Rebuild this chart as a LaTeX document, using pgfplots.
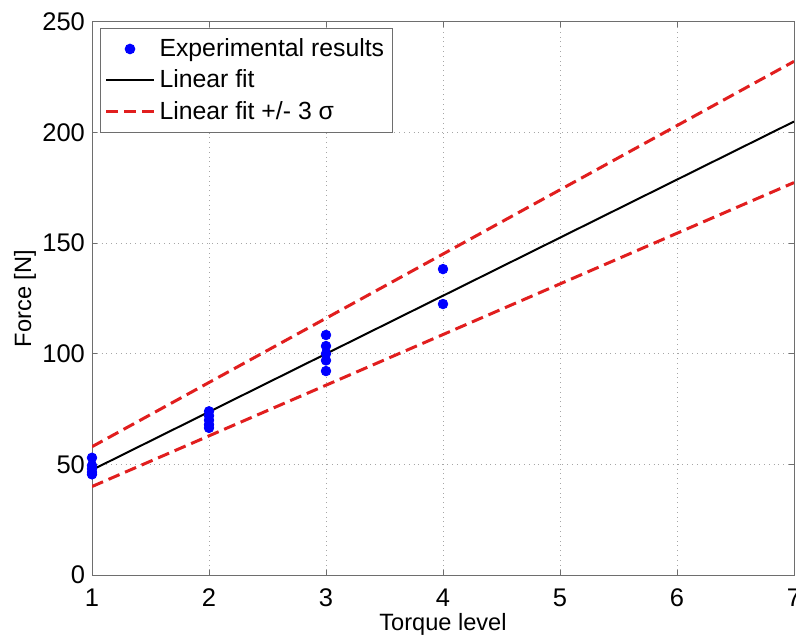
\documentclass[border=0pt]{standalone}
\usepackage{pgfplots}
\pgfplotsset{compat=1.18}
\usepackage{fontspec}
\setmainfont{Liberation Sans}

\definecolor{mred}{RGB}{225,30,30}
\definecolor{mblue}{RGB}{0,0,255}
\definecolor{axgray}{RGB}{110,110,110}

\begin{document}
\begin{tikzpicture}
\begin{axis}[
  width=351pt, height=276.5pt, scale only axis,
  xmin=1, xmax=7, ymin=0, ymax=250,
  xtick={1,...,7}, ytick={0,50,...,250},
  tick align=inside, major tick length=2.5pt,
  grid=major,
  grid style={dotted, gray!70, line width=0.5pt},
  axis line style={axgray, line width=0.5pt},
  tick style={axgray, line width=0.5pt},
  ticklabel style={font=\fontsize{12.75}{15}\selectfont},
  xticklabel style={yshift=-3.5pt},
  /pgf/number format/assume math mode=true,
  xlabel={Torque level}, ylabel={Force [N]},
  label style={font=\fontsize{11.8}{14}\selectfont},
  xlabel style={at={(axis description cs:0.5,-0.0995)}, anchor=base},
  ylabel style={at={(axis description cs:-0.0953,0.5)}, anchor=center},
  legend style={at={(0,1)}, anchor=north west, xshift=4pt, yshift=-3pt,
    draw=axgray, line width=0.5pt, font=\fontsize{12.4}{14}\selectfont,
    inner xsep=2pt, inner ysep=3pt, row sep=1.2pt},
  legend cell align=left,
  legend image code/.code={\draw[mark repeat=2,mark phase=2,#1] plot coordinates {(0pt,0pt) (12pt,0pt) (24pt,0pt)};},
]
\addplot[only marks, mark=*, mark size=2.4pt, mblue, mark options={fill=mblue, draw=mblue}]
  coordinates {
  (1,53) (1,49.5) (1,48) (1,46.5) (1,45.5)
  (2,74) (2,72) (2,70) (2,68) (2,66.5)
  (3,108.5) (3,103.5) (3,100) (3,97) (3,92.2)
  (4,138.3) (4,122.5)
  };
\addlegendentry{Experimental results}
\addplot[black, line width=1pt] coordinates {(1,47.5) (7,205)};
\addlegendentry{Linear fit}
\addplot[mred, line width=1.5pt, dash pattern=on 6pt off 3pt] coordinates {(1,58) (7,232.2)};
\addlegendentry{Linear fit +/- 3 σ}
\addplot[mred, line width=1.5pt, dash pattern=on 6pt off 3pt, forget plot] coordinates {(1,40) (7,177.4)};
\coordinate (bl) at (rel axis cs:0,0);
\coordinate (tr) at (rel axis cs:1,1);
\end{axis}
\pgfresetboundingbox
\path[use as bounding box] ([shift={(-46pt,-31pt)}]bl) rectangle ([shift={(1pt,11pt)}]tr);
\end{tikzpicture}
\end{document}
